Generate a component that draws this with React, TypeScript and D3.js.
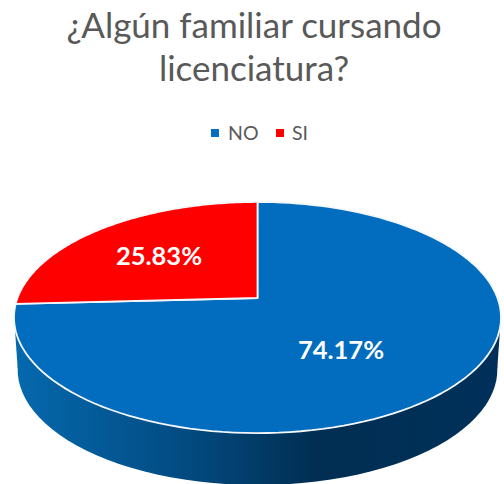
import React from "react";
import * as d3 from "d3";

const categories = ["NO", "SI"];
const values = [74.17, 25.83];
const labels = ["74.17%", "25.83%"];
const colors = ["#026DBE", "#FF0000"];
const titleLines = ["¿Algún familiar cursando", "licenciatura?"];

const W = 504, H = 484;
const cx = 257.5, apexY = 298, c = -0.169, k = 61.9, s = 240;

// Circle in perspective: the pie's centre lands on the apex, its rim on the ellipse
const project = (a: number, r = 1): [number, number] => {
  const x = r * Math.sin(a), y = -r * Math.cos(a);
  const w = 1 + c * y;
  return [cx + (s * x) / w, (apexY + k * y) / w];
};
const steps = (a0: number, a1: number) => d3.range(0, 121).map((i) => a0 + ((a1 - a0) * i) / 120);
const line = d3.line();

const pieGen = d3.pie<number>().sort(null).startAngle(0).endAngle(2 * Math.PI);
const arcs = pieGen(values);

const sliceD = (a0: number, a1: number) =>
  (line(steps(a0, a1).map((a) => project(a))) as string).replace(/^M/, `M${cx},${apexY}L`) + "Z";

const rimPts = steps(0, 2 * Math.PI).map((a) => project(a));
const depth = 52, shrink = 0.985;
const wallPts = rimPts.map(([x, y]) => [cx + (x - cx) * shrink, y + depth] as [number, number]);
const wallD = line(wallPts) + "Z";
const leftX = d3.min(rimPts, (p) => p[0]) as number;
const rightX = d3.max(rimPts, (p) => p[0]) as number;
// Sides of the wall, joining the rim's widest points to the lower outline
const midY = rimPts.find((p) => p[0] === leftX)![1];
const midYr = rimPts.find((p) => p[0] === rightX)![1];
const sideD = `M${leftX},${midY}L${cx + (leftX - cx) * shrink},${midY + depth}L${cx + (rightX - cx) * shrink},${midYr + depth}L${rightX},${midYr}Z`;

const labelPos: [number, number][] = [[341, 350], [159, 256]];
const font = "Lato, 'Noto Sans', sans-serif";

export default function App() {
  return (
    <svg width={W} height={H} viewBox={`0 0 ${W} ${H}`} style={{ position: "fixed", left: 0, top: 0, background: "#fff" }}>
      <defs>
        <linearGradient id="wall" gradientUnits="userSpaceOnUse" x1={leftX} x2={rightX} y1="0" y2="0">
          <stop offset="0" stopColor="#0569AE" />
          <stop offset="0.36" stopColor="#024A80" />
          <stop offset="0.62" stopColor="#012E52" />
          <stop offset="1" stopColor="#00305A" />
        </linearGradient>
      </defs>
      {titleLines.map((t, i) => (
        <text key={t} x={254} y={38 + i * 43} textAnchor="middle" fontFamily={font} fontSize={35} fill="#595959">{t}</text>
      ))}
      <g fontFamily={font} fontSize={19.5} fill="#595959">
        <rect x={211} y={129} width={8} height={8} fill={colors[0]} />
        <text x={228} y={140}>{categories[0]}</text>
        <rect x={276} y={129} width={8} height={8} fill={colors[1]} />
        <text x={292} y={140}>{categories[1]}</text>
      </g>
      <path d={sideD} fill="url(#wall)" />
      <path d={wallD} fill="url(#wall)" />
      {arcs.map((a, i) => (
        <path key={i} d={sliceD(a.startAngle, a.endAngle)} fill={colors[i]} stroke="#F4F7FA" strokeWidth={1.8} strokeLinejoin="round" />
      ))}
      {arcs.map((a, i) => (
        <text key={i} x={labelPos[i][0]} y={labelPos[i][1]} dy="0.36em" textAnchor="middle" fontFamily={font} fontWeight={700} fontSize={25.5} fill="#fff">{labels[i]}</text>
      ))}
    </svg>
  );
}
